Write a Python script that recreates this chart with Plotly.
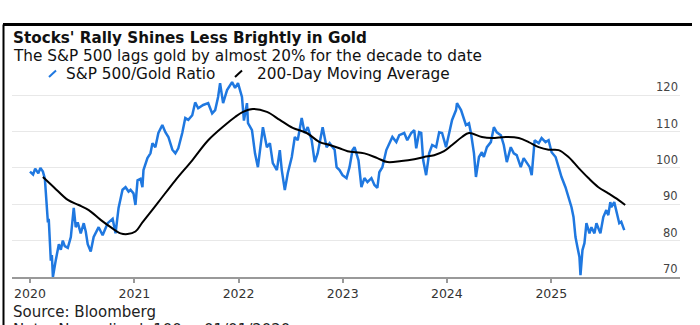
import pandas as pd
import plotly.graph_objects as go

# ---- data (decimal years, normalized ratio) ----
ratio_t = [2020.00, 2020.03, 2020.05, 2020.08, 2020.10, 2020.124, 2020.143, 2020.158, 2020.172, 2020.18,
           2020.20, 2020.21, 2020.22, 2020.248, 2020.277, 2020.296, 2020.315, 2020.334, 2020.363, 2020.392,
           2020.420, 2020.439, 2020.458, 2020.487, 2020.516, 2020.535, 2020.554, 2020.583, 2020.611, 2020.659,
           2020.697, 2020.745, 2020.793, 2020.821, 2020.850, 2020.888, 2020.917, 2020.946, 2020.965, 2020.993,
           2021.012, 2021.032, 2021.060, 2021.079, 2021.089, 2021.127, 2021.156, 2021.175, 2021.203, 2021.232,
           2021.270, 2021.299, 2021.328, 2021.366, 2021.395, 2021.423, 2021.461, 2021.490, 2021.519, 2021.557,
           2021.585, 2021.614, 2021.662, 2021.710, 2021.748, 2021.777, 2021.805, 2021.824, 2021.853, 2021.891,
           2021.939, 2021.968, 2021.996, 2022.034, 2022.053, 2022.082, 2022.092, 2022.130, 2022.159, 2022.187,
           2022.225, 2022.235, 2022.273, 2022.302, 2022.330, 2022.369, 2022.397, 2022.416, 2022.445, 2022.474,
           2022.512, 2022.541, 2022.569, 2022.607, 2022.636, 2022.665, 2022.703, 2022.732, 2022.760, 2022.808,
           2022.846, 2022.875, 2022.904, 2022.923, 2022.942, 2022.970, 2022.999, 2023.037, 2023.066, 2023.095,
           2023.114, 2023.133, 2023.152, 2023.180, 2023.209, 2023.238, 2023.276, 2023.305, 2023.333, 2023.352,
           2023.381, 2023.419, 2023.448, 2023.477, 2023.515, 2023.543, 2023.591, 2023.620, 2023.658, 2023.687,
           2023.706, 2023.734, 2023.754, 2023.773, 2023.801, 2023.830, 2023.859, 2023.897, 2023.926, 2023.954,
           2023.992, 2024.021, 2024.050, 2024.088, 2024.097, 2024.136, 2024.155, 2024.183, 2024.212, 2024.231,
           2024.260, 2024.279, 2024.308, 2024.336, 2024.355, 2024.384, 2024.422, 2024.451, 2024.479, 2024.518,
           2024.546, 2024.575, 2024.613, 2024.642, 2024.670, 2024.709, 2024.737, 2024.766, 2024.795, 2024.814,
           2024.842, 2024.881, 2024.909, 2024.947, 2024.976, 2025.005, 2025.043, 2025.072, 2025.100, 2025.138,
           2025.167, 2025.196, 2025.215, 2025.234, 2025.253, 2025.272, 2025.282, 2025.301, 2025.320, 2025.339,
           2025.368, 2025.387, 2025.416, 2025.435, 2025.473, 2025.501, 2025.530, 2025.549, 2025.568, 2025.578,
           2025.606, 2025.625, 2025.654, 2025.673, 2025.692, 2025.702]
ratio_v = [99.0, 98.2, 99.8, 98.5, 100.0, 99.0, 97.0, 90.0, 85.0, 86.0,
           74.5, 76.0, 70.0, 74.7, 79.0, 77.5, 80.0, 78.5, 78.0, 81.0,
           89.0, 83.7, 85.0, 82.0, 84.8, 82.5, 79.0, 77.0, 81.0, 83.7,
           81.5, 84.8, 86.0, 82.0, 89.0, 94.0, 94.7, 93.5, 94.0, 93.0,
           89.8, 96.6, 97.0, 94.7, 99.4, 102.7, 104.0, 106.8, 105.7, 109.6,
           111.8, 109.8, 108.5, 105.0, 104.0, 105.4, 109.6, 113.7, 113.2, 114.5,
           118.0, 116.4, 117.3, 117.8, 115.0, 115.9, 119.5, 123.3, 117.8, 121.4,
           123.6, 122.0, 123.3, 119.5, 113.0, 117.8, 112.3, 110.4, 104.0, 100.2,
           110.4, 111.2, 105.7, 106.8, 101.3, 99.4, 104.9, 99.4, 93.9, 98.6,
           103.0, 108.5, 107.6, 113.7, 109.6, 111.2, 107.6, 101.6, 104.0, 111.2,
           105.7, 106.8, 105.7, 105.0, 100.2, 99.4, 98.0, 97.2, 100.2, 104.9,
           105.7, 103.5, 102.1, 94.7, 97.2, 96.1, 97.2, 95.3, 94.5, 98.8,
           100.2, 104.9, 106.8, 108.5, 107.1, 109.0, 109.6, 107.6, 109.6, 110.4,
           105.4, 109.8, 109.6, 102.1, 98.0, 104.0, 106.3, 105.7, 109.8, 109.6,
           105.7, 109.8, 113.2, 115.9, 117.8, 115.9, 114.0, 111.8, 112.3, 109.6,
           104.0, 97.5, 103.0, 104.3, 103.0, 105.7, 107.1, 111.2, 109.8, 109.0,
           106.3, 101.6, 105.7, 104.0, 103.5, 100.2, 102.7, 101.3, 100.2, 98.0,
           107.6, 106.8, 108.2, 107.1, 107.6, 104.3, 103.0, 100.2, 97.5, 94.7,
           92.0, 89.2, 86.5, 81.0, 78.2, 75.5, 70.5, 77.4, 79.3, 84.8,
           82.0, 83.7, 82.0, 84.8, 82.0, 86.5, 88.4, 87.0, 90.6, 89.2,
           90.6, 88.4, 84.8, 85.2, 83.7, 82.9]

ma_t = [2020.124, 2020.229, 2020.363, 2020.468, 2020.564, 2020.678, 2020.774, 2020.869, 2020.936, 2021.012,
        2021.079, 2021.232, 2021.395, 2021.557, 2021.710, 2021.872, 2021.968, 2022.044, 2022.139, 2022.273,
        2022.397, 2022.521, 2022.655, 2022.779, 2022.875, 2022.970, 2023.047, 2023.209, 2023.333, 2023.429,
        2023.563, 2023.687, 2023.782, 2023.878, 2023.973, 2024.050, 2024.145, 2024.212, 2024.336, 2024.432,
        2024.565, 2024.690, 2024.785, 2024.881, 2024.976, 2025.072, 2025.167, 2025.263, 2025.358, 2025.454,
        2025.549, 2025.645, 2025.711]
ma_v = [97.5, 94.7, 91.2, 89.8, 88.4, 85.7, 83.7, 82.0, 81.8, 82.5,
        85.0, 90.6, 96.6, 102.1, 107.6, 111.8, 114.0, 115.4, 116.2, 115.4,
        113.2, 111.0, 109.6, 107.1, 106.3, 105.4, 104.6, 104.0, 102.7, 101.6,
        101.9, 102.4, 103.0, 103.5, 104.6, 106.3, 108.5, 109.6, 108.5, 108.2,
        108.5, 108.2, 107.1, 105.7, 105.0, 104.9, 103.0, 100.0, 97.2, 94.7,
        93.0, 91.2, 89.8]

year_ticks = ["2020", "2021", "2022", "2023", "2024", "2025"]
y_ticks = [70, 80, 90, 100, 110, 120]

TITLE = "Stocks' Rally Shines Less Brightly in Gold"
SUBTITLE = "The S&P 500 lags gold by almost 20% for the decade to date"
LEG1 = "S&P 500/Gold Ratio"
LEG2 = "200-Day Moving Average"
SOURCE = "Source: Bloomberg"
NOTE = "Note: Normalized: 100 = 01/01/2020"

BLUE = "#1f78e0"
FONT = "DejaVu Sans"

def to_dates(ts):
    base = pd.Timestamp("2020-01-01")
    return [base + pd.Timedelta(days=(t - 2020) * 365.25) for t in ts]

fig = go.Figure()
fig.add_trace(go.Scatter(x=to_dates(ratio_t), y=ratio_v, mode="lines",
                         line=dict(color=BLUE, width=2.5), name=LEG1))
fig.add_trace(go.Scatter(x=to_dates(ma_t), y=ma_v, mode="lines",
                         line=dict(color="black", width=2, shape="spline"), name=LEG2))

L, R, T, B = 12, 20, 77, 48
W, H = 700, 325
pw, ph = W - L - R, H - T - B

def px(xp):
    return (xp - L) / pw

def py(yp):
    return (H - B - yp) / ph

def label(text, xp, yp, size, color="#111"):
    return dict(text=text, x=px(xp), y=py(yp), xref="paper", yref="paper",
                xanchor="left", yanchor="middle", showarrow=False, borderpad=0,
                font=dict(family=FONT, size=size, color=color))

annotations = [
    label("<b>" + TITLE + "</b>", 12, 38, 15.2),
    label(SUBTITLE, 12, 56, 15.3),
    label(LEG1, 65, 74, 15.3),
    label(LEG2, 256, 74, 15.3),
    label(SOURCE, 12, 312, 15, "#222"),
    label(NOTE, 12, 330, 15, "#222"),
]
for v in y_ticks:
    annotations.append(dict(text=str(v), x=1, y=v, xref="paper", yref="y",
                            xanchor="right", yanchor="middle", yshift=8, showarrow=False,
                            font=dict(family=FONT, size=11.5, color="#444")))

shapes = [
    dict(type="line", xref="paper", yref="paper", x0=px(3), x1=px(692), y0=py(24.5), y1=py(24.5),
         line=dict(color="black", width=3)),
    dict(type="line", xref="paper", yref="paper", x0=px(3.5), x1=px(3.5), y0=py(24.5), y1=py(330),
         line=dict(color="black", width=2)),
    dict(type="line", xref="paper", yref="paper", x0=px(49), x1=px(56), y0=py(77), y1=py(70.5),
         line=dict(color=BLUE, width=2)),
    dict(type="line", xref="paper", yref="paper", x0=px(235), x1=px(242), y0=py(77), y1=py(70.5),
         line=dict(color="black", width=2)),
]

fig.update_layout(
    width=W, height=H, autosize=False,
    margin=dict(l=L, r=R, t=T, b=B),
    paper_bgcolor="white", plot_bgcolor="white",
    showlegend=False,
    annotations=annotations, shapes=shapes,
    xaxis=dict(type="date", range=["2019-10-30", "2026-03-28"],
               tickvals=[pd.Timestamp(y + "-01-01") for y in year_ticks], ticktext=year_ticks,
               showgrid=False, zeroline=False, showline=True, linecolor="#999", linewidth=1.5,
               ticks="outside", ticklen=4, tickcolor="#999", tickwidth=1.5,
               tickfont=dict(family=FONT, size=12.5, color="#333")),
    yaxis=dict(range=[70, 125], tickvals=y_ticks, showticklabels=False,
               showgrid=True, gridcolor="#e8e8e8", gridwidth=1, zeroline=False, showline=False),
)

fig.write_html("out.html")
